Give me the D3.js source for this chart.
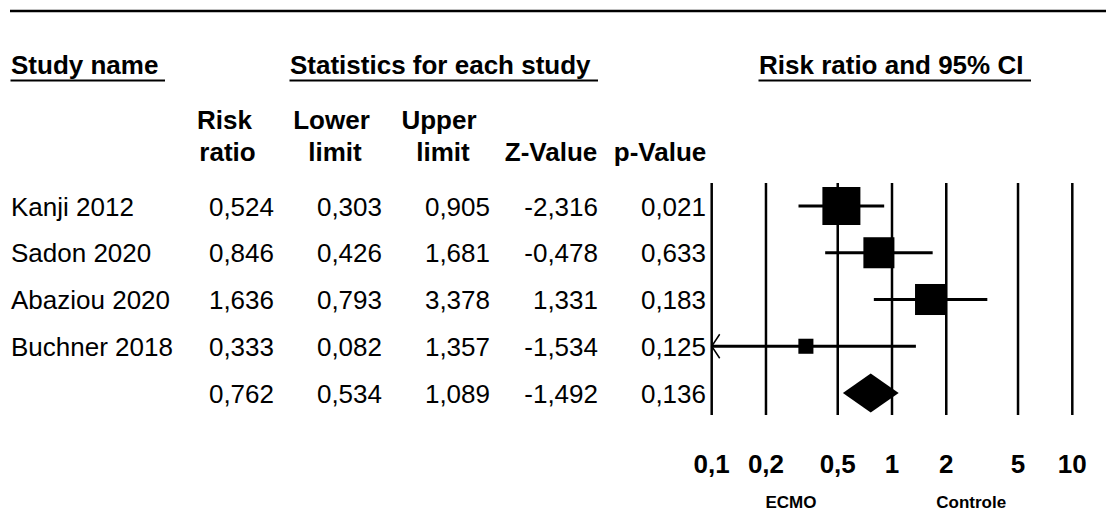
<!DOCTYPE html>
<html>
<head>
<meta charset="utf-8">
<script src="https://cdn.jsdelivr.net/npm/d3@7"></script>
<style>
  html, body { margin: 0; padding: 0; background: #fff; }
  svg { display: block; }
  text { font-family: "Liberation Sans", Arial, sans-serif; fill: #000; }
</style>
</head>
<body>
<svg id="chart" width="1106" height="527"></svg>
<script>
// ---- Data ----
const studies    = ["Kanji 2012", "Sadon 2020", "Abaziou 2020", "Buchner 2018", ""];
const riskRatio  = [0.524, 0.846, 1.636, 0.333, 0.762];
const lowerLimit = [0.303, 0.426, 0.793, 0.082, 0.534];
const upperLimit = [0.905, 1.681, 3.378, 1.357, 1.089];
const zValue     = [-2.316, -0.478, 1.331, -1.534, -1.492];
const pValue     = [0.021, 0.633, 0.183, 0.125, 0.136];
const weights    = [40.2, 26.8, 26.8, 6.3];           // relative study weights (summary row has none)
const tickValues = [0.1, 0.2, 0.5, 1, 2, 5, 10];
const tickLabels = ["0,1", "0,2", "0,5", "1", "2", "5", "10"];
const favourLabels = ["ECMO", "Controle"];
const favourPositions = [0.275, 2.75];

// ---- Setup ----
const svg = d3.select("#chart");
const loc = d3.formatLocale({decimal: ",", thousands: ".", grouping: [3], currency: ["", ""], minus: "-"});
const fmt = loc.format(".3f");

const x = d3.scaleLog().domain([0.1, 10]).range([711.7, 1072.3]);
const y = d3.scaleLinear().domain([0, studies.length - 1]).range([206, 393]);
const rowIdx = d3.range(studies.length);

// top rule
svg.append("line").attr("x1", 10).attr("x2", 1106).attr("y1", 11).attr("y2", 11)
  .attr("stroke", "#000").attr("stroke-width", 2.5);

// section headers (underlined)
const headers = [
  {t: "Study name", x: 11, u2: 165},
  {t: "Statistics for each study", x: 290, u2: 598},
  {t: "Risk ratio and 95% CI", x: 759, u2: 1031}
];
headers.forEach(h => {
  svg.append("text").attr("x", h.x).attr("y", 74)
    .attr("font-size", 26).attr("font-weight", "bold").text(h.t);
  svg.append("line").attr("x1", h.x - 0.5).attr("x2", h.u2).attr("y1", 80.5).attr("y2", 80.5)
    .attr("stroke", "#000").attr("stroke-width", 2);
});

// column headers
const colHeads = [
  {l1: "Risk", l2: "ratio", c1: 224.5, c2: 227.5},
  {l1: "Lower", l2: "limit", c1: 331.5, c2: 335},
  {l1: "Upper", l2: "limit", c1: 439, c2: 443},
  {l1: "", l2: "Z-Value", c1: 551, c2: 551},
  {l1: "", l2: "p-Value", c1: 660, c2: 660}
];
colHeads.forEach(c => {
  if (c.l1) svg.append("text").attr("x", c.c1).attr("y", 129).attr("text-anchor", "middle")
    .attr("font-size", 26).attr("font-weight", "bold").text(c.l1);
  svg.append("text").attr("x", c.c2).attr("y", 161).attr("text-anchor", "middle")
    .attr("font-size", 26).attr("font-weight", "bold").text(c.l2);
});

// table rows
const colRight = [274, 382, 490, 598, 706];
const cols = [riskRatio, lowerLimit, upperLimit, zValue, pValue];
rowIdx.forEach(i => {
  svg.append("text").attr("x", 11).attr("y", y(i) + 9.5).attr("font-size", 26).text(studies[i]);
  cols.forEach((arr, j) => {
    svg.append("text").attr("x", colRight[j]).attr("y", y(i) + 9.5)
      .attr("text-anchor", "end").attr("font-size", 26).text(fmt(arr[i]));
  });
});

// vertical grid lines at ticks
svg.append("g").selectAll("line").data(tickValues).join("line")
  .attr("x1", d => x(d)).attr("x2", d => x(d))
  .attr("y1", 183).attr("y2", 415)
  .attr("stroke", "#000").attr("stroke-width", 2.5);

// tick labels
svg.append("g").selectAll("text").data(tickValues).join("text")
  .attr("x", d => x(d)).attr("y", 473).attr("text-anchor", "middle")
  .attr("font-size", 26).attr("font-weight", "bold")
  .text((d, i) => tickLabels[i]);

// favour labels
svg.append("g").selectAll("text").data(favourLabels).join("text")
  .attr("x", (d, i) => x(favourPositions[i])).attr("y", 507.5).attr("text-anchor", "middle")
  .attr("font-size", 17).attr("font-weight", "bold").text(d => d);

// study CIs and boxes
const [xMin, xMax] = x.domain();
const k = 38 / Math.sqrt(weights[0]);
const studyIdx = rowIdx.slice(0, weights.length);
const g = svg.append("g");
studyIdx.forEach(i => {
  const lo = Math.max(lowerLimit[i], xMin), hi = Math.min(upperLimit[i], xMax);
  g.append("line").attr("x1", x(lo)).attr("x2", x(hi)).attr("y1", y(i)).attr("y2", y(i))
    .attr("stroke", "#000").attr("stroke-width", 3);
  if (lowerLimit[i] < xMin) {
    const tx = x(xMin);
    g.append("path").attr("d", `M${tx + 8},${y(i) - 12} L${tx},${y(i)} L${tx + 8},${y(i) + 12}`)
      .attr("fill", "none").attr("stroke", "#000").attr("stroke-width", 1.5);
  }
  const s = k * Math.sqrt(weights[i]);
  g.append("rect").attr("x", x(riskRatio[i]) - s / 2).attr("y", y(i) - s / 2)
    .attr("width", s).attr("height", s).attr("fill", "#000");
});

// summary diamond
const si = studies.length - 1;
const h = 19.5;
g.append("path")
  .attr("d", `M${x(lowerLimit[si])},${y(si)} L${x(riskRatio[si])},${y(si) - h} L${x(upperLimit[si])},${y(si)} L${x(riskRatio[si])},${y(si) + h} Z`)
  .attr("fill", "#000");
</script>
</body>
</html>
